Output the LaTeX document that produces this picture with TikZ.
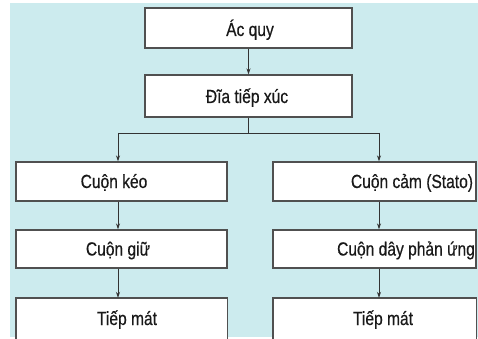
\documentclass[tikz,border=0pt]{standalone}
\usepackage{fontspec}
\setmainfont{Liberation Sans}[FakeStretch=0.82,FakeBold=0.5]
\usetikzlibrary{arrows.meta}
\definecolor{bg}{HTML}{CCEBEE}
\definecolor{boxline}{HTML}{505050}
\definecolor{arrline}{HTML}{333333}
\begin{document}
\begin{tikzpicture}[x=1pt,y=-1pt,
  box/.style={draw=boxline, line width=1.4pt, fill=white, inner sep=0pt},
  openbox/.style={fill=white, inner sep=0pt},
  lbl/.style={font=\fontsize{19}{22}\selectfont, text=black!90, inner sep=0pt, anchor=base},
  arr/.style={draw=arrline, line width=0.8pt, -{Stealth[length=6pt,width=4pt]}},
  ln/.style={draw=arrline, line width=0.8pt}]
\useasboundingbox (0,0) rectangle (478,339);
\fill[white] (0,0) rectangle (478,339);
\fill[bg] (10,3) rectangle (478,337);
% boxes
\node[box, minimum width=207pt, minimum height=40pt] (acquy) at (248.5,28) {};
\node[box, minimum width=207pt, minimum height=42pt] (dia) at (248.5,96) {};
\node[box, minimum width=211pt, minimum height=39pt] (l1) at (121.5,181.5) {};
\node[box, minimum width=211pt, minimum height=38pt] (l2) at (121.5,249) {};
\node[openbox, minimum width=211pt, minimum height=41pt] (l3) at (121.5,318.5) {};
\draw[boxline, line width=1.4pt] (l3.south west) |- (l3.north east) -- (l3.south east);
\node[box, minimum width=203pt, minimum height=39pt] (r1) at (374.5,181.5) {};
\node[box, minimum width=203pt, minimum height=38pt] (r2) at (374.5,249) {};
\node[openbox, minimum width=203pt, minimum height=41pt] (r3) at (374.5,318.5) {};
\draw[boxline, line width=1.4pt] (r3.south west) |- (r3.north east) -- (r3.south east);
% labels
\node[lbl] (tacquy) at (250,36) {Ác quy};
\node[lbl] (tdia) at (247,103) {Đĩa tiếp xúc};
\node[lbl] (tl1) at (114,188) {Cuộn kéo};
\node[lbl] (tl2) at (118,255.5) {Cuộn giữ};
\node[lbl] (tl3) at (127,325) {Tiếp mát};
\node[lbl] (tr1) at (412,188) {Cuộn cảm (Stato)};
\node[lbl] (tr2) at (406,255.5) {Cuộn dây phản ứng};
\node[lbl] (tr3) at (383,325) {Tiếp mát};
% connectors
\coordinate (j) at (248.5,133);
\coordinate (jl) at (118,133);
\coordinate (jr) at (379,133);
\draw[arr] (acquy.south) -- (dia.north);
\draw[ln] (dia.south) -- (j);
\draw[ln] (jl) -- (jr);
\draw[arr] (jl) -- (jl |- l1.north);
\draw[arr] (jr) -- (jr |- r1.north);
\draw[arr] (l1.south -| jl) -- (l2.north -| jl);
\draw[arr] (l2.south -| jl) -- (l3.north -| jl);
\draw[arr] (r1.south -| jr) -- (r2.north -| jr);
\draw[arr] (r2.south -| jr) -- (r3.north -| jr);
\end{tikzpicture}
\end{document}
